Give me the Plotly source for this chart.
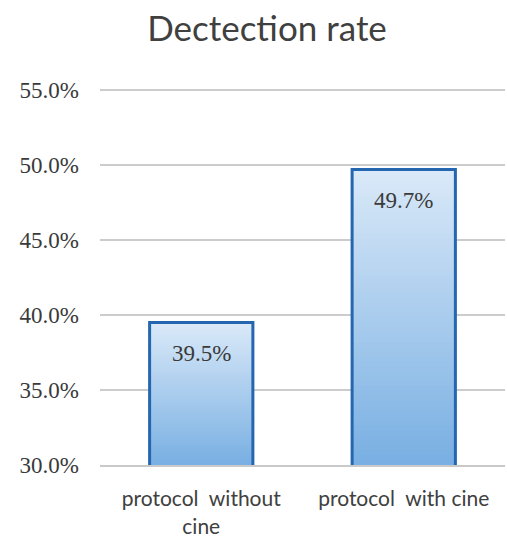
import plotly.graph_objects as go

# Detection rate by imaging protocol (percent)
categories = ["protocol&nbsp;&nbsp;without<br>cine", "protocol&nbsp;&nbsp;with cine"]
rates = [39.5, 49.7]
y_ticks = [30, 35, 40, 45, 50, 55]
y_tick_labels = ["30.0%", "35.0%", "40.0%", "45.0%", "50.0%", "55.0%"]
Y_MIN, Y_MAX = 30, 55

N_STEPS = 60
TOP_RGB = (218, 233, 248)
BOTTOM_RGB = (120, 175, 226)
BAR_WIDTH = 0.51
SERIF = "Liberation Serif"


def blend(t):
    r = [round(a + (b - a) * t) for a, b in zip(TOP_RGB, BOTTOM_RGB)]
    return f"rgb({r[0]},{r[1]},{r[2]})"


fig = go.Figure()

# gradient body of each bar, stacked in overlapping slices from the axis floor up to the value
for cat, v in zip(categories, rates):
    h = (v - Y_MIN) / N_STEPS
    bases = [Y_MIN + k * h for k in range(N_STEPS)]
    heights = [min(h * 1.8, v - b) for b in bases]
    colors = [blend(1 - (k + 0.5) / N_STEPS) for k in range(N_STEPS)]
    fig.add_trace(go.Bar(
        x=[cat] * N_STEPS, y=heights, base=bases,
        width=BAR_WIDTH, marker=dict(color=colors, line=dict(width=0)),
        hoverinfo="skip", showlegend=False,
    ))

# outline of each bar
fig.add_trace(go.Bar(
    x=categories, y=rates, width=BAR_WIDTH,
    marker=dict(color="rgba(0,0,0,0)", line=dict(color="#2466b0", width=3)),
    showlegend=False,
))

for cat, v in zip(categories, rates):
    fig.add_annotation(
        x=cat, y=v, text=f"{v:.1f}%", showarrow=False,
        yanchor="middle", yshift=-31,
        font=dict(family=SERIF, size=23, color="#3a3a3a"),
    )

fig.update_layout(
    width=507, height=537,
    margin=dict(l=100, r=2, t=89, b=72),
    paper_bgcolor="white", plot_bgcolor="white",
    barmode="overlay",
    title=dict(
        text="Dectection rate", x=267 / 507, xanchor="center", xref="container",
        y=1 - 29 / 537, yanchor="middle", yref="container",
        font=dict(family="Lato", size=35, color="#404040"),
    ),
    xaxis=dict(
        showline=True, linecolor="#c9c9c9", linewidth=2, automargin=False,
        showgrid=False, ticks="", ticklabelstandoff=14,
        tickfont=dict(family="Lato", size=21, color="#404040"),
    ),
    yaxis=dict(
        range=[Y_MIN, Y_MAX + 0.07], tickvals=y_ticks, ticktext=y_tick_labels,
        showgrid=True, gridcolor="#cccccc", gridwidth=2, automargin=False,
        zeroline=False, showline=False, ticks="",
        ticklabelstandoff=20,
        tickfont=dict(family=SERIF, size=23, color="#3a3a3a"),
    ),
)

fig.write_html("out.html")
